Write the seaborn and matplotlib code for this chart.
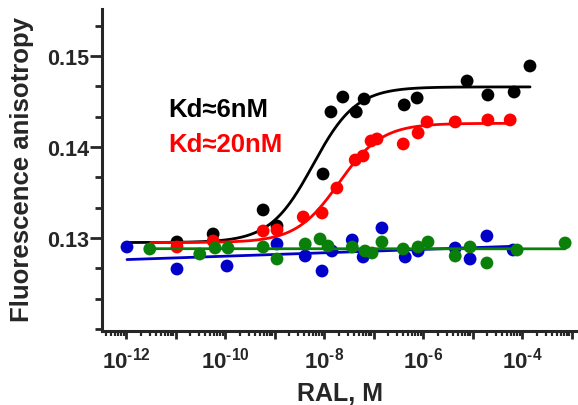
import numpy as np
import pandas as pd
import matplotlib
matplotlib.use("Agg")
import matplotlib.pyplot as plt
import matplotlib.ticker as mticker
import seaborn as sns

# =========================
# data (log10 of RAL concentration, M) and anisotropy
# =========================
black_logx = [-10.97, -10.24, -9.23, -8.95, -8.02, -7.86, -7.62, -7.35, -7.19,
              -6.38, -6.12, -5.11, -4.69, -4.16, -3.84]
black_y = [0.12956, 0.13044, 0.13308, 0.13132, 0.13703, 0.14385, 0.14549, 0.14385,
           0.14527, 0.14462, 0.14538, 0.14725, 0.14571, 0.14604, 0.14890]

red_logx = [-10.97, -10.24, -9.23, -8.95, -8.42, -8.04, -7.74, -7.37, -7.21,
            -7.05, -6.93, -6.40, -6.10, -5.92, -5.35, -4.69, -4.24]
red_y = [0.12901, 0.12967, 0.13077, 0.13088, 0.13231, 0.13275, 0.13549, 0.13857,
         0.13901, 0.14066, 0.14088, 0.14033, 0.14154, 0.14275, 0.14275, 0.14297, 0.14297]

blue_logx = [-11.98, -10.97, -9.96, -8.95, -8.38, -8.04, -7.84, -7.43, -7.21,
             -6.83, -6.36, -6.10, -5.35, -5.05, -4.71, -4.18]
blue_y = [0.12901, 0.12659, 0.12692, 0.12934, 0.12802, 0.12637, 0.12857, 0.12978,
          0.12791, 0.13110, 0.12791, 0.12857, 0.12890, 0.12769, 0.13022, 0.12868]

green_logx = [-11.52, -10.51, -10.20, -9.94, -9.23, -8.95, -8.38, -8.08, -7.92,
              -7.43, -7.17, -7.03, -6.83, -6.40, -6.10, -5.90, -5.35, -5.05,
              -4.71, -4.10, -3.13]
green_y = [0.12879, 0.12824, 0.12890, 0.12890, 0.12901, 0.12769, 0.12934, 0.12989,
           0.12912, 0.12901, 0.12857, 0.12835, 0.12956, 0.12879, 0.12901, 0.12956,
           0.12802, 0.12901, 0.12725, 0.12868, 0.12945]

# one-site fits (bottom, top, Kd) and the range the fit is drawn over
black_fit = [0.1295, 0.1466, 6e-9]
red_fit = [0.1295, 0.1426, 2e-8]
black_range = [1e-12, 1.45e-4]
red_range = [10 ** -11.5, 5.7e-5]

xticks_log = [-12, -10, -8, -6, -4]
yticks = [0.13, 0.14, 0.15]


def hill(conc, bottom, top, kd):
    return bottom + (top - bottom) / (1 + kd / conc)


def make_df(logx, y, name):
    return pd.DataFrame({"conc": 10.0 ** np.array(logx), "aniso": y, "set": name})


sns.set_style("ticks")
plt.rcParams["font.family"] = ["Liberation Sans", "DejaVu Sans"]
plt.rcParams["font.weight"] = "bold"
plt.rcParams["mathtext.fontset"] = "custom"
plt.rcParams["mathtext.rm"] = "Liberation Sans:bold"
plt.rcParams["mathtext.bf"] = "Liberation Sans:bold"
plt.rcParams["mathtext.default"] = "rm"

fig = plt.figure(figsize=(5.78, 4.06), dpi=100)
ax = fig.add_axes([102 / 578, 74 / 406, 476 / 578, 322 / 406])
ax.set_xscale("log")

colors = {"black": "black", "red": "#ff0000", "blue": "#0000c8", "green": "#0a800a"}
data = {
    "black": make_df(black_logx, black_y, "black"),
    "red": make_df(red_logx, red_y, "red"),
    "blue": make_df(blue_logx, blue_y, "blue"),
    "green": make_df(green_logx, green_y, "green"),
}

z = 2
# sigmoid fits + points
for name, fit, rng in [("black", black_fit, black_range), ("red", red_fit, red_range)]:
    xs = np.logspace(np.log10(rng[0]), np.log10(rng[1]), 300)
    sns.scatterplot(data=data[name], x="conc", y="aniso", color=colors[name], s=85,
                    edgecolor="none", ax=ax, zorder=z)
    sns.lineplot(x=xs, y=hill(xs, *fit), color=colors[name], lw=2, ax=ax, zorder=z + 1)
    z += 2

# flat linear fits for the controls
for name in ["blue", "green"]:
    sns.scatterplot(data=data[name], x="conc", y="aniso", color=colors[name], s=85,
                    edgecolor="none", ax=ax, zorder=z)
    sns.regplot(data=data[name], x="conc", y="aniso", logx=True, ci=None, scatter=False,
                color=colors[name], line_kws={"lw": 2, "zorder": z + 1}, ax=ax)
    z += 2

ax.set_xlim(10 ** -12.485, 10 ** -2.87)
ax.set_ylim(0.11978, 0.15516)

ax.set_xticks([10.0 ** k for k in range(-12, -2)])
ax.set_xticklabels([r"$10^{\text{-}%d}$" % -k if k in xticks_log else "" for k in range(-12, -2)],
                   fontsize=16)
ax.xaxis.set_minor_locator(mticker.LogLocator(base=10, subs=np.arange(2, 10), numticks=20))
ax.xaxis.set_minor_formatter(mticker.NullFormatter())

ax.set_yticks(yticks)
ax.set_yticklabels(["%.2f" % v for v in yticks], fontsize=15.5)
ax.yaxis.set_minor_locator(mticker.MultipleLocator(0.01 / 3))

sns.despine(ax=ax)
for side in ["left", "bottom"]:
    ax.spines[side].set_linewidth(2.2)
ax.tick_params(axis="both", which="major", width=2, length=6)
ax.tick_params(axis="y", which="major", length=8.5, pad=1)
ax.tick_params(axis="x", which="major", pad=5)
ax.tick_params(axis="y", which="minor", width=2, length=5)
ax.tick_params(axis="x", which="minor", width=1.6, length=3.5)

ax.set_xlabel("RAL, M", fontsize=18, fontweight="bold", labelpad=6)
ax.set_ylabel("Fluorescence anisotropy", fontsize=18.5, fontweight="bold")
ax.yaxis.set_label_coords(-(102 - 34) / 476, (406 - 74 - 170) / 322)

ax.text(10 ** -11.15, 0.13 + (239 - 110) / 9100, "Kd\u22486nM", color="black", fontsize=18.5,
        fontweight="bold", va="center", ha="left")
ax.text(10 ** -11.15, 0.13 + (239 - 145) / 9100, "Kd\u224820nM", color="#ff0000", fontsize=18.5,
        fontweight="bold", va="center", ha="left")

fig.savefig("out.png", dpi=100)
